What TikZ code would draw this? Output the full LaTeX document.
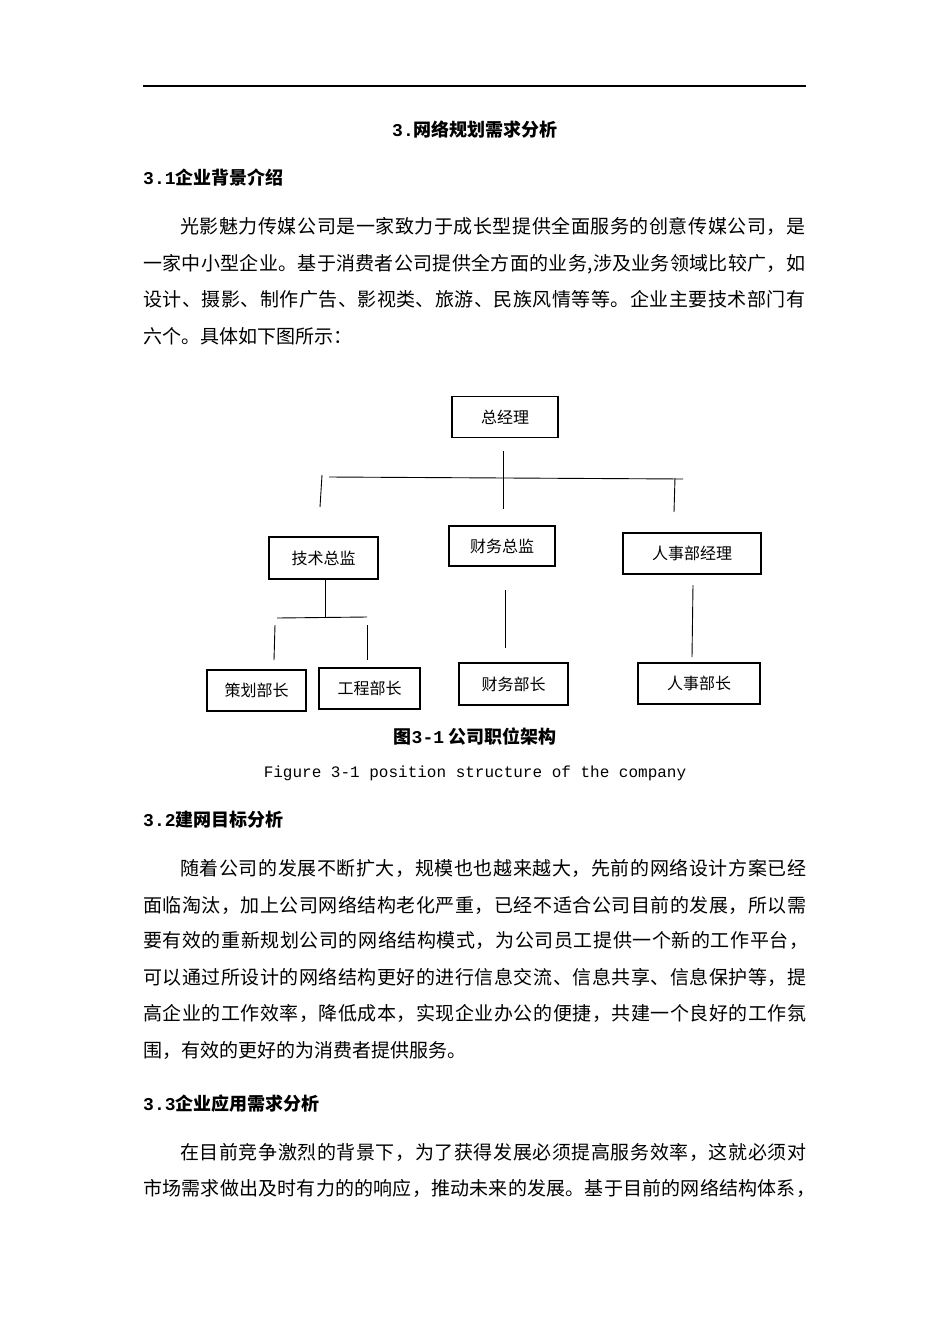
\documentclass[tikz,border=0pt]{standalone}
\usepackage{fontspec}
\setmainfont{Noto Sans CJK SC}
\newfontfamily\mono{Liberation Mono}
\makeatletter
\def\spr@end{}
\def\spr#1{\spr@a#1\spr@end}
\def\spr@a#1{#1\spr@b}
\def\spr@b#1{\ifx#1\spr@end\else\hfill#1\expandafter\spr@b\fi}
\newcommand\jl[2]{\hbox to #1pt{\spr{#2}}}
\makeatother
\begin{document}
\begin{tikzpicture}[x=1pt,y=-1pt,
  txt/.style={anchor=base west,inner sep=0pt,font=\fontsize{19}{19}\selectfont},
  hd/.style={anchor=base west,inner sep=0pt,font=\fontsize{18}{18}\selectfont\bfseries},
  box/.style={draw,line width=1.3pt,inner sep=0pt,font=\fontsize{16}{16}\selectfont},
  ln/.style={line width=0.9pt}]
\useasboundingbox (0,0) rectangle (950,1344);
\draw[line width=1.3pt] (143,86) -- (806,86);
\node[anchor=base,inner sep=0pt,font=\fontsize{18}{18}\selectfont\bfseries] (title) at (475,136) {{\mono 3.}网络规划需求分析};
\node[hd] (h1) at (143,184) {{\mono 3.1}企业背景介绍};
\node[txt] (p1a) at (180,233) {\jl{625}{光影魅力传媒公司是一家致力于成长型提供全面服务的创意传媒公司，是}};
\node[txt] (p1b) at (143,270) {\jl{662}{一家中小型企业。基于消费者公司提供全方面的业务,涉及业务领域比较广，如}};
\node[txt] (p1c) at (143,306) {\jl{662}{设计、摄影、制作广告、影视类、旅游、民族风情等等。企业主要技术部门有}};
\node[txt] (p1d) at (143,343) {六个。具体如下图所示：};
% diagram
\node[box,minimum width=106pt,minimum height=41pt] (zjl) at (505,417) {总经理};
\node[box,minimum width=109pt,minimum height=42pt] (js) at (323.5,558) {技术总监};
\node[box,minimum width=106pt,minimum height=40pt] (cw) at (502,546) {财务总监};
\node[box,minimum width=138pt,minimum height=41pt] (rs) at (692,553.5) {人事部经理};
\node[box,minimum width=99pt,minimum height=41pt] (ch) at (256.5,690.5) {策划部长};
\node[box,minimum width=101pt,minimum height=41pt] (gc) at (369.5,688.5) {工程部长};
\node[box,minimum width=109pt,minimum height=42pt] (cwb) at (513.5,684) {财务部长};
\node[box,minimum width=122pt,minimum height=41pt] (rsb) at (699,683.5) {人事部长};
\draw[ln] (503,451) -- (503,509);
\draw[ln] (329,477) -- (683,479);
\draw[ln] (322,475) -- (320,507);
\draw[ln] (675,478) -- (674,512);
\draw[ln] (325,579) -- (325,617);
\draw[ln] (277,618) -- (367,617);
\draw[ln] (275,625) -- (274,660);
\draw[ln] (367,625) -- (367,660);
\draw[ln] (505,590) -- (505,648);
\draw[ln] (693,585) -- (692,657);
\node[anchor=base,inner sep=0pt,font=\fontsize{18}{18}\selectfont\bfseries] (cap1) at (475,743) {图{\mono 3-1} 公司职位架构};
\node[anchor=base,inner sep=0pt,font=\fontsize{16}{16}\selectfont\mono] (cap2) at (475,777) {Figure 3-1 position structure of the company};
\node[hd] (h2) at (143,826) {{\mono 3.2}建网目标分析};
\node[txt] (p2a) at (180,875) {\jl{626}{随着公司的发展不断扩大，规模也也越来越大，先前的网络设计方案已经}};
\node[txt] (p2b) at (143,912) {\jl{663}{面临淘汰，加上公司网络结构老化严重，已经不适合公司目前的发展，所以需}};
\node[txt] (p2c) at (143,947) {\jl{665}{要有效的重新规划公司的网络结构模式，为公司员工提供一个新的工作平台，}};
\node[txt] (p2d) at (143,984) {\jl{663}{可以通过所设计的网络结构更好的进行信息交流、信息共享、信息保护等，提}};
\node[txt] (p2e) at (143,1020) {\jl{663}{高企业的工作效率，降低成本，实现企业办公的便捷，共建一个良好的工作氛}};
\node[txt] (p2f) at (143,1057) {围，有效的更好的为消费者提供服务。};
\node[hd] (h3) at (143,1110) {{\mono 3.3}企业应用需求分析};
\node[txt] (p3a) at (180,1159) {\jl{626}{在目前竞争激烈的背景下，为了获得发展必须提高服务效率，这就必须对}};
\node[txt] (p3b) at (143,1195) {\jl{672}{市场需求做出及时有力的的响应，推动未来的发展。基于目前的网络结构体系，}};
\end{tikzpicture}
\end{document}
